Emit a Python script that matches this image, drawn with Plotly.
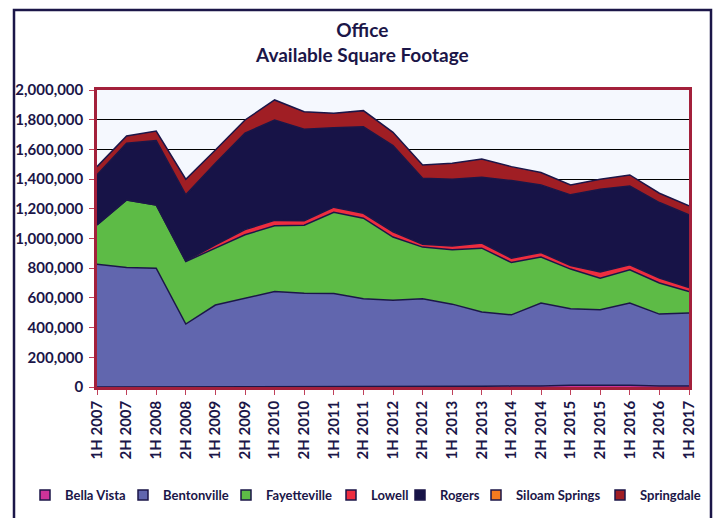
import plotly.graph_objects as go

categories = ["1H 2007", "2H 2007", "1H 2008", "2H 2008", "1H 2009", "2H 2009", "1H 2010",
              "2H 2010", "1H 2011", "2H 2011", "1H 2012", "2H 2012", "1H 2013", "2H 2013",
              "1H 2014", "2H 2014", "1H 2015", "2H 2015", "1H 2016", "2H 2016", "1H 2017"]

bella_vista = [0, 0, 0, 0, 0, 0, 0, 0, 0, 2000, 4000, 4000, 3000, 5000, 6000, 6000,
               12000, 12000, 12000, 6000, 6000]
bentonville = [827000, 805000, 800000, 424000, 552000, 599000, 643000, 632000, 630000, 592000,
               581000, 590000, 555000, 500000, 480000, 559000, 515000, 508000, 553000, 485000, 492000]
fayetteville = [265000, 455000, 426000, 421000, 383000, 426000, 443000, 458000, 547000, 543000,
                425000, 348000, 366000, 430000, 352000, 310000, 267000, 213000, 224000, 209000, 145000]
lowell = [0, 0, 0, 3000, 22000, 35000, 36000, 30000, 34000, 33000, 35000, 20000, 26000, 34000,
          30000, 31000, 24000, 41000, 34000, 33000, 27000]
rogers = [336000, 381000, 433000, 446000, 550000, 649000, 676000, 616000, 535000, 583000,
          580000, 444000, 449000, 444000, 522000, 455000, 476000, 558000, 531000, 509000, 489000]
siloam_springs = [0] * 21
springdale = [56000, 49000, 65000, 105000, 89000, 89000, 135000, 118000, 97000, 108000,
              90000, 89000, 108000, 123000, 94000, 83000, 67000, 67000, 74000, 63000, 61000]

series = [
    ("Bella Vista", bella_vista, "#CC3399"),
    ("Bentonville", bentonville, "#6166AE"),
    ("Fayetteville", fayetteville, "#5DBB46"),
    ("Lowell", lowell, "#EE2D3F"),
    ("Rogers", rogers, "#171347"),
    ("Siloam Springs", siloam_springs, "#F47B20"),
    ("Springdale", springdale, "#A01E24"),
]
legend_widths = [53, 58, 60, 24, 31, 79, 61]

NAVY = "#1B1648"
FONT = "Lato"

fig = go.Figure()
for name, vals, col in series:
    fig.add_trace(go.Scatter(
        x=categories, y=vals, name=name, mode="lines",
        stackgroup="one", fillcolor=col, showlegend=False,
        line=dict(color=NAVY, width=1.5),
    ))
# legend entries with square swatches
for (name, vals, col), lw in zip(series, legend_widths):
    fig.add_trace(go.Scatter(
        x=[None], y=[None], name=name, mode="markers", legendwidth=lw,
        marker=dict(symbol="square", size=10, color=col, line=dict(color=NAVY, width=1.5)),
    ))

fig.update_layout(
    width=715, height=518,
    margin=dict(l=97, r=26, t=90, b=131, autoexpand=False),
    paper_bgcolor="white",
    plot_bgcolor="#F5F8FE",
    font=dict(family=FONT, color=NAVY, size=14),
    showlegend=True,
    legend=dict(orientation="h", x=(25 - 97) / 592, xanchor="left",
                y=-(495 - 387) / 297, yanchor="middle",
                font=dict(family=FONT, size=13, color=NAVY, weight="bold"),
                itemwidth=30, traceorder="normal", bgcolor="rgba(0,0,0,0)"),
    xaxis=dict(type="category", range=[0, 20], tickangle=-90, automargin=False,
               showline=True, mirror=True, linecolor="#A3203B", linewidth=2.5,
               ticks="outside", tickcolor="#C0405A", ticklen=5,
               tickfont=dict(family=FONT, size=15, color=NAVY, weight="bold"),
               showgrid=False, tickmode="array", tickvals=categories, ticktext=categories),
    yaxis=dict(range=[0, 2000000], dtick=200000, tickformat=",", automargin=False,
               showline=True, mirror=True, linecolor="#A3203B", linewidth=2.5,
               ticks="outside", tickcolor="#C0405A", ticklen=5, ticklabelstandoff=3,
               showgrid=True, gridcolor="#000000", gridwidth=1, zeroline=False,
               tickfont=dict(family=FONT, size=15, color=NAVY, weight="bold")),
    annotations=[dict(text="Office<br>Available Square Footage", xref="paper", yref="paper",
                      x=0.448, y=(387 - 42) / 297, showarrow=False, xanchor="center",
                      yanchor="middle",
                      font=dict(family=FONT, size=19, color=NAVY, weight="bold"))],
    shapes=[dict(type="rect", xref="paper", yref="paper",
                 x0=(14 - 97) / 592, x1=(711 - 97) / 592,
                 y0=(387 - 530) / 297, y1=(387 - 10) / 297,
                 line=dict(color=NAVY, width=2.5), layer="below")],
)

fig.write_html("out.html", config={"displayModeBar": False},
               post_script="document.body.style.margin='0';")
